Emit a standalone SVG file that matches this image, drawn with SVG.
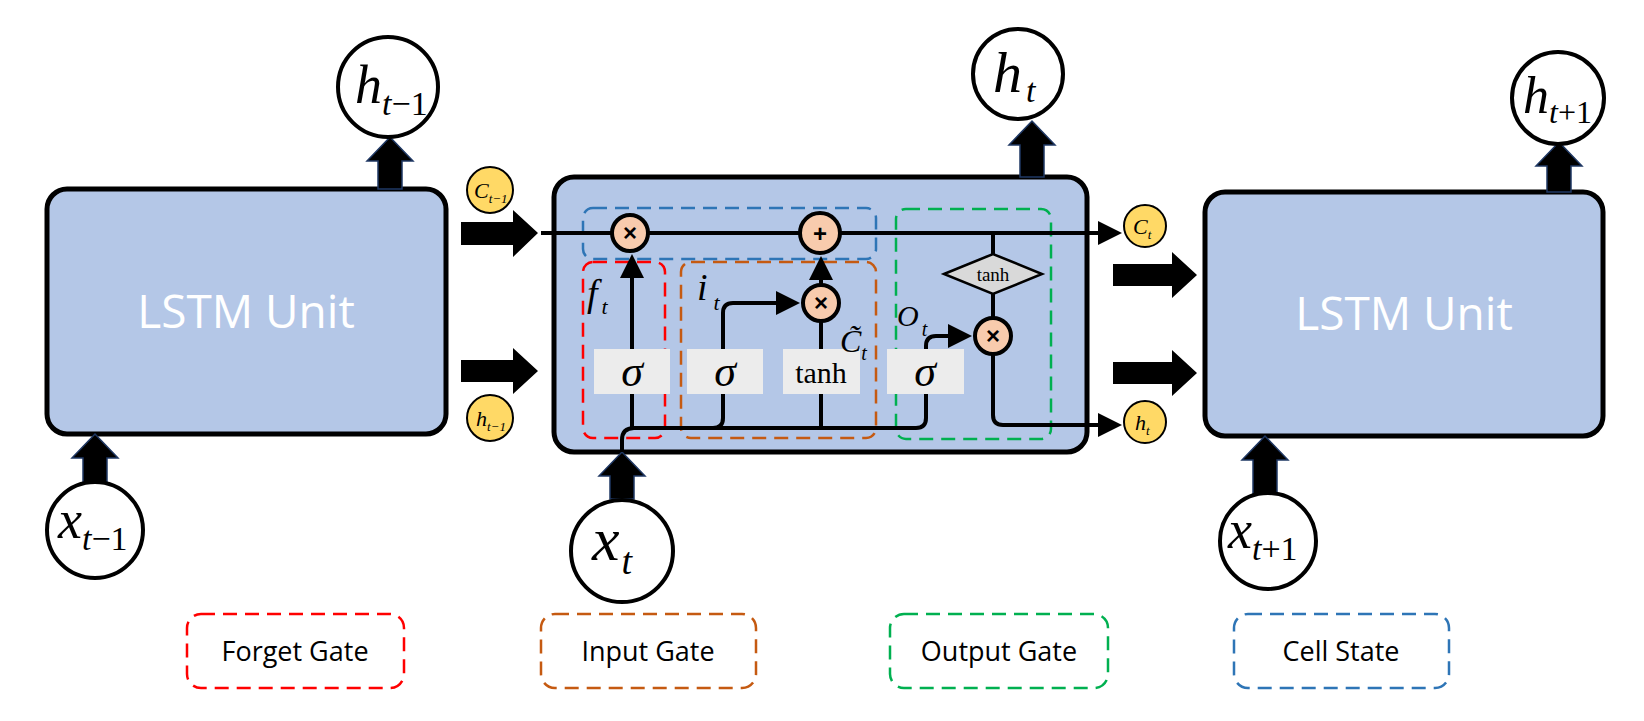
<svg xmlns="http://www.w3.org/2000/svg" width="1644" height="721" viewBox="0 0 1644 721">
<style>
.box{fill:#b4c7e7;stroke:#000;stroke-width:5}
.big{fill:#fff;stroke:#000;stroke-width:4}
.yel{fill:#ffd966;stroke:#000;stroke-width:2}
.op{fill:#f8cbad;stroke:#000;stroke-width:4}
.ln{fill:none;stroke:#000;stroke-width:4}
.m{font-family:"Liberation Serif",serif;font-style:italic;fill:#000}
.s{font-family:"Liberation Serif",serif;fill:#000}
.u{font-family:"Open Sans","Liberation Sans",sans-serif;fill:#fff;font-size:46px}
.lg{font-family:"Open Sans","Liberation Sans",sans-serif;fill:#000;font-size:27px}
.gb{fill:#ececec}
.d{fill:none;stroke-width:2.5;stroke-dasharray:14 8}
</style>
<defs>
<marker id="ah" markerWidth="6" markerHeight="6" refX="5" refY="3" orient="auto" markerUnits="strokeWidth"><path d="M0,0 L6,3 L0,6 z" fill="#000"/></marker>
</defs>
<g id="lstm-left"><rect class="box" x="47" y="189" width="399" height="245" rx="20"/><text class="u" x="246" y="328" text-anchor="middle">LSTM Unit</text></g>
<g id="lstm-center"><rect class="box" x="554" y="177" width="533" height="275" rx="20"/></g>
<g id="lstm-right"><rect class="box" x="1205" y="192" width="398" height="244" rx="20"/><text class="u" x="1404" y="330" text-anchor="middle">LSTM Unit</text></g>

<g id="block-arrows" fill="#000" stroke="#1f3864" stroke-width="1.5">
<path d="M378,189 V161 H367 L390,137 L413,161 H402 V189 z"/>
<path d="M1020,177 V145 H1009 L1032,121 L1055,145 H1044 V177 z"/>
<path d="M1547,192 V166 H1536 L1559,142 L1582,166 H1571 V192 z"/>
<path d="M83,483 V458 H72 L95,434 L118,458 H107 V483 z"/>
<path d="M610,499 V476 H599 L622,452 L645,476 H634 V499 z"/>
<path d="M1253,494 V460 H1242 L1265,436 L1288,460 H1277 V494 z"/>
</g>
<g id="right-arrows" fill="#000">
<path d="M461,222 H513 V210 L538,233 L513,257 V245 H461 z"/>
<path d="M461,360 H513 V348 L538,371 L513,394 V382 H461 z"/>
<path d="M1113,264 H1172 V252 L1197,275 L1172,298 V286 H1113 z"/>
<path d="M1113,362 H1172 V350 L1197,373 L1172,396 V384 H1113 z"/>
</g>

<g id="regions">
<rect class="d" stroke="#2e75b6" x="583" y="208" width="293" height="51" rx="10"/>
<rect class="d" stroke="#ff0000" x="583" y="262" width="82" height="176" rx="10"/>
<rect class="d" stroke="#c55a11" x="681" y="262" width="195" height="176" rx="10"/>
<rect class="d" stroke="#00b050" x="896" y="209" width="155" height="230" rx="10"/>
</g>

<g id="connectors">
<line class="ln" x1="541" y1="233" x2="1118" y2="233" marker-end="url(#ah)"/>
<path class="ln" d="M622,452 V440 Q622,428 634,428 H916 Q926,428 926,418 V346 Q926,336 936,336 H968" marker-end="url(#ah)"/>
<line class="ln" x1="632" y1="428" x2="632" y2="258" marker-end="url(#ah)"/>
<path class="ln" d="M713,428 Q723,428 723,418 V313 Q723,303 733,303 H796" marker-end="url(#ah)"/>
<line class="ln" x1="821" y1="428" x2="821" y2="321"/>
<line class="ln" x1="821" y1="285" x2="821" y2="260" marker-end="url(#ah)"/>
<line class="ln" x1="993" y1="233" x2="993" y2="254"/>
<line class="ln" x1="993" y1="294" x2="993" y2="318"/>
<path class="ln" d="M993,354 V415 Q993,425 1003,425 H1118" marker-end="url(#ah)"/>
</g>

<g id="gates">
<rect class="gb" x="594" y="349" width="76" height="45"/><text class="m" x="632" y="386" font-size="44" text-anchor="middle">σ</text>
<rect class="gb" x="687" y="349" width="76" height="45"/><text class="m" x="725" y="386" font-size="44" text-anchor="middle">σ</text>
<rect class="gb" x="783" y="349" width="77" height="45"/><text class="s" x="821" y="383" font-size="30" text-anchor="middle">tanh</text>
<rect class="gb" x="887" y="349" width="77" height="45"/><text class="m" x="925" y="386" font-size="44" text-anchor="middle">σ</text>
<path d="M944,274 L993,254 L1042,274 L993,294 z" fill="#d9d9d9" stroke="#000" stroke-width="2.5"/>
<text class="s" x="993" y="281" font-size="19" text-anchor="middle">tanh</text>
</g>
<g id="ops" font-family="Liberation Sans,sans-serif" font-size="24" font-weight="bold" text-anchor="middle">
<circle class="op" cx="630" cy="233" r="18"/><text x="630" y="241">×</text>
<circle class="op" cx="820" cy="233" r="20"/><text x="820" y="242">+</text>
<circle class="op" cx="821" cy="303" r="18"/><text x="821" y="311">×</text>
<circle class="op" cx="993" cy="336" r="18"/><text x="993" y="344">×</text>
</g>
<g id="labels">
<text class="m" x="587" y="306" font-size="38">f<tspan font-size="22" dy="8" dx="4">t</tspan></text>
<text class="m" x="697" y="300" font-size="38">i<tspan font-size="22" dy="10" dx="6">t</tspan></text>
<text class="m" x="840" y="352" font-size="32">C̃<tspan font-size="20" dy="8">t</tspan></text>
<text class="m" x="897" y="326" font-size="30">O<tspan font-size="20" dy="10" dx="3">t</tspan></text>
</g>

<g id="h-prev"><circle class="big" cx="388" cy="87" r="50"/><text class="m" x="355" y="103" font-size="54">h<tspan font-size="34" dy="12">t</tspan><tspan font-size="34" font-style="normal">−1</tspan></text></g>
<g id="h-t"><circle class="big" cx="1018" cy="74" r="45"/><text class="m" x="993" y="92" font-size="58">h<tspan font-size="34" dy="10" dx="4">t</tspan></text></g>
<g id="h-next"><circle class="big" cx="1558" cy="98" r="46"/><text class="m" x="1523" y="113" font-size="52">h<tspan font-size="32" dy="10">t</tspan><tspan font-size="32" font-style="normal">+1</tspan></text></g>
<g id="x-prev"><circle class="big" cx="95" cy="530" r="48"/><text class="m" x="58" y="538" font-size="54">x<tspan font-size="34" dy="12">t</tspan><tspan font-size="34" font-style="normal">−1</tspan></text></g>
<g id="x-t"><circle class="big" cx="622" cy="551" r="51"/><text class="m" x="592" y="560" font-size="62">x<tspan font-size="38" dy="14" dx="2">t</tspan></text></g>
<g id="x-next"><circle class="big" cx="1268" cy="541" r="48"/><text class="m" x="1228" y="548" font-size="54">x<tspan font-size="34" dy="12">t</tspan><tspan font-size="34" font-style="normal">+1</tspan></text></g>

<g id="c-prev"><circle class="yel" cx="490" cy="190" r="23"/><text class="m" x="474" y="198" font-size="22">C<tspan font-size="13" dy="5">t−1</tspan></text></g>
<g id="hs-prev"><circle class="yel" cx="490" cy="418" r="23"/><text class="m" x="476" y="426" font-size="22">h<tspan font-size="13" dy="5">t−1</tspan></text></g>
<g id="c-t"><circle class="yel" cx="1145" cy="226" r="21"/><text class="m" x="1133" y="234" font-size="22">C<tspan font-size="13" dy="5">t</tspan></text></g>
<g id="hs-t"><circle class="yel" cx="1145" cy="422" r="21"/><text class="m" x="1135" y="430" font-size="22">h<tspan font-size="13" dy="5">t</tspan></text></g>

<g id="legend">
<rect class="d" stroke="#ff0000" x="187" y="614" width="217" height="74" rx="14"/><text class="lg" x="295" y="661" text-anchor="middle">Forget Gate</text>
<rect class="d" stroke="#c55a11" x="541" y="614" width="215" height="74" rx="14"/><text class="lg" x="648" y="661" text-anchor="middle">Input Gate</text>
<rect class="d" stroke="#00b050" x="890" y="614" width="218" height="74" rx="14"/><text class="lg" x="999" y="661" text-anchor="middle">Output Gate</text>
<rect class="d" stroke="#2e75b6" x="1234" y="614" width="215" height="74" rx="14"/><text class="lg" x="1341" y="661" text-anchor="middle">Cell State</text>
</g>
</svg>
